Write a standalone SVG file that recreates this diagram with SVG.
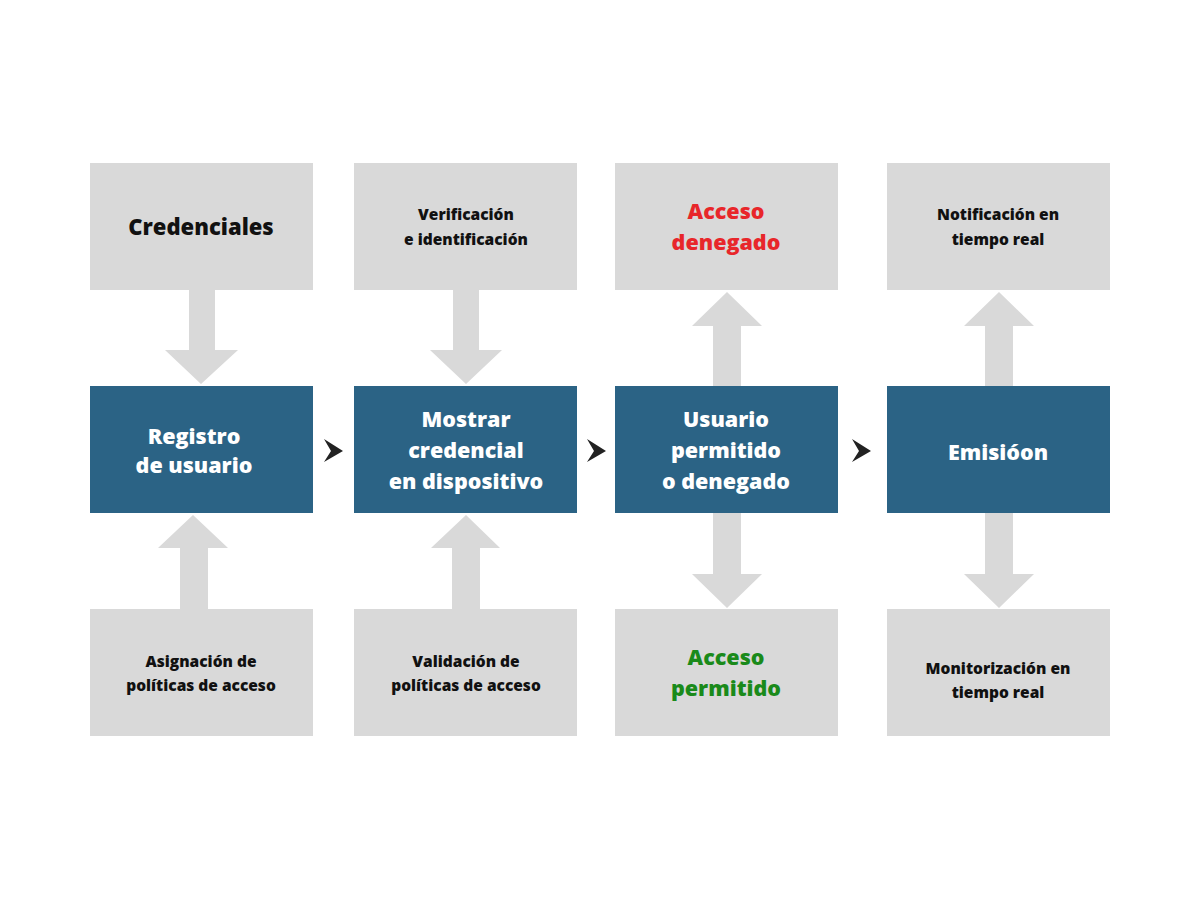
<svg xmlns="http://www.w3.org/2000/svg" width="1200" height="900" viewBox="0 0 1200 900">
<style>
.g{fill:#d9d9d9}.b{fill:#2b6385}.a{fill:#d9d9d9}
text{font-family:"Open Sans","Noto Sans",sans-serif;font-weight:800;text-anchor:middle}
.w{fill:#fff;font-size:21.5px}.k{fill:#111;font-size:15.5px}.big{fill:#111;font-size:22px}
.r{fill:#e8262a;font-size:21.5px}.gr{fill:#1a8a1a;font-size:21.5px}
.c{fill:#222}
</style>
<rect width="1200" height="900" fill="#fff"/>
<g id="connectors">
<path class="a" d="M189,290H215V350H238L201,384L165,350H189Z"/>
<path class="a" d="M180,609H208V548H228L193,515L158,548H180Z"/>
<path class="a" d="M453,290H479V350H502L466,384L430,350H453Z"/>
<path class="a" d="M452,609H480V548H500L466,515L431,548H452Z"/>
<path class="a" d="M713,386H741V326H762L727,292L692,326H713Z"/>
<path class="a" d="M713,513H741V574H762L727,608L692,574H713Z"/>
<path class="a" d="M985,386H1013V326H1034L999,292L964,326H985Z"/>
<path class="a" d="M985,513H1013V574H1034L999,608L964,574H985Z"/>
<path class="c" d="M324,439L343,451L324,462L331,451Z"/>
<path class="c" d="M587,439L606,451L587,462L594,451Z"/>
<path class="c" d="M852,439L871,451L852,462L859,451Z"/>
</g>
<g id="n1"><rect class="g" x="90" y="163" width="223" height="127"/><text class="big" x="201" y="235">Credenciales</text></g>
<g id="n2"><rect class="g" x="354" y="163" width="223" height="127"/><text class="k" x="466" y="220">Verificación</text><text class="k" x="466" y="245">e identificación</text></g>
<g id="n3"><rect class="g" x="615" y="163" width="223" height="127"/><text class="r" x="726" y="219">Acceso</text><text class="r" x="726" y="250">denegado</text></g>
<g id="n4"><rect class="g" x="887" y="163" width="223" height="127"/><text class="k" x="998" y="220">Notificación en</text><text class="k" x="998" y="245">tiempo real</text></g>
<g id="n5"><rect class="b" x="90" y="386" width="223" height="127"/><text class="w" x="194" y="444">Registro</text><text class="w" x="194" y="473">de usuario</text></g>
<g id="n6"><rect class="b" x="354" y="386" width="223" height="127"/><text class="w" x="466" y="427">Mostrar</text><text class="w" x="466" y="458">credencial</text><text class="w" x="466" y="489">en dispositivo</text></g>
<g id="n7"><rect class="b" x="615" y="386" width="223" height="127"/><text class="w" x="726" y="427">Usuario</text><text class="w" x="726" y="458">permitido</text><text class="w" x="726" y="489">o denegado</text></g>
<g id="n8"><rect class="b" x="887" y="386" width="223" height="127"/><text class="w" x="998" y="460">Emisióon</text></g>
<g id="n9"><rect class="g" x="90" y="609" width="223" height="127"/><text class="k" x="201" y="667">Asignación de</text><text class="k" x="201" y="691">políticas de acceso</text></g>
<g id="n10"><rect class="g" x="354" y="609" width="223" height="127"/><text class="k" x="466" y="667">Validación de</text><text class="k" x="466" y="691">políticas de acceso</text></g>
<g id="n11"><rect class="g" x="615" y="609" width="223" height="127"/><text class="gr" x="726" y="665">Acceso</text><text class="gr" x="726" y="696">permitido</text></g>
<g id="n12"><rect class="g" x="887" y="609" width="223" height="127"/><text class="k" x="998" y="674">Monitorización en</text><text class="k" x="998" y="698">tiempo real</text></g>
</svg>
